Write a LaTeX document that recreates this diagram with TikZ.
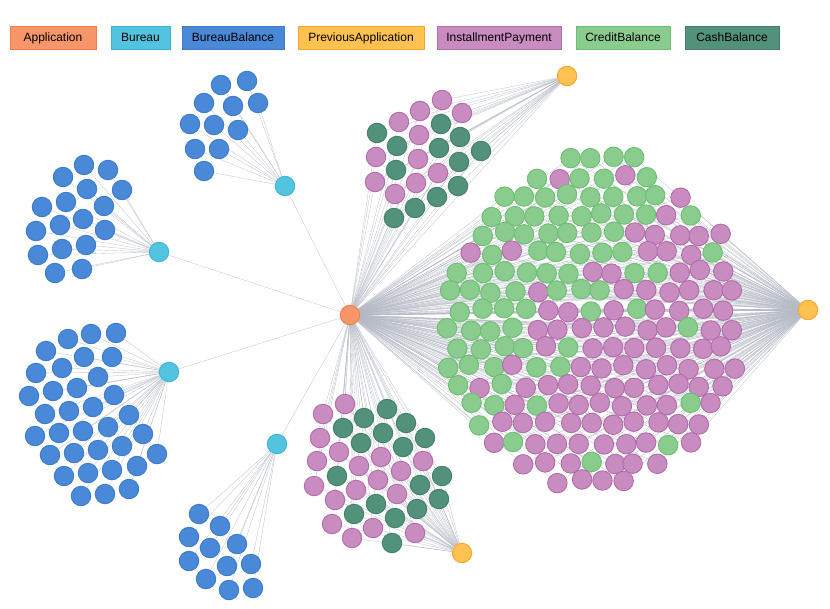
\documentclass[tikz,border=0pt]{standalone}
\usepackage{fontspec}
\setmainfont{Liberation Sans}
\usetikzlibrary{positioning,backgrounds}

\definecolor{appfill}{HTML}{F79668}
\definecolor{appline}{HTML}{EE7E4A}
\definecolor{bufill}{HTML}{52C4E0}
\definecolor{buline}{HTML}{40B3D4}
\definecolor{bbfill}{HTML}{4989D8}
\definecolor{bbline}{HTML}{3D7BCB}
\definecolor{pafill}{HTML}{FFC150}
\definecolor{paline}{HTML}{EDA830}
\definecolor{ipfill}{HTML}{C88CC0}
\definecolor{ipline}{HTML}{B26CA9}
\definecolor{cbfill}{HTML}{89CC8D}
\definecolor{cbline}{HTML}{6DBE72}
\definecolor{chfill}{HTML}{52917A}
\definecolor{chline}{HTML}{457F69}
\definecolor{linkgray}{HTML}{B4B9C4}

\begin{document}
\begin{tikzpicture}[
    x=1pt, y=-1pt,
    dot/.style={circle, minimum size=19.5pt, inner sep=0pt, line width=0.9pt},
    appnode/.style={dot, fill=appfill, draw=appline},
    bureaunode/.style={dot, fill=bufill, draw=buline},
    balnode/.style={dot, fill=bbfill, draw=bbline},
    prevnode/.style={dot, fill=pafill, draw=paline},
    instnode/.style={dot, fill=ipfill, draw=ipline},
    creditnode/.style={dot, fill=cbfill, draw=cbline},
    cashnode/.style={dot, fill=chfill, draw=chline},
    link/.style={draw=linkgray, line width=0.35pt, opacity=0.8},
    legbox/.style={line width=0.8pt, minimum height=23pt, inner sep=0pt,
                   text height=9pt, text depth=1.5pt,
                   font=\fontsize{12}{14}\selectfont}
  ]
  \useasboundingbox (0,0) rectangle (830,608);

  % legend
  \node[legbox, fill=appfill, draw=appline, minimum width=86pt] (legApp) at (53,37.5) {Application};
  \node[legbox, fill=bufill, draw=buline, minimum width=59pt] (legBureau) at (140.5,37.5) {Bureau};
  \node[legbox, fill=bbfill, draw=bbline, minimum width=102pt] (legBal) at (233,37.5) {BureauBalance};
  \node[legbox, fill=pafill, draw=paline, minimum width=126pt] (legPrev) at (361,37.5) {PreviousApplication};
  \node[legbox, fill=ipfill, draw=ipline, minimum width=124pt] (legInst) at (499,37.5) {InstallmentPayment};
  \node[legbox, fill=cbfill, draw=cbline, minimum width=94pt] (legCredit) at (623,37.5) {CreditBalance};
  \node[legbox, fill=chfill, draw=chline, minimum width=94pt] (legCash) at (732,37.5) {CashBalance};

  % hub, bureaus, previous applications
  \node[appnode] (app) at (350,315) {};
  \node[bureaunode] (bu1) at (285,186) {};
  \node[bureaunode] (bu2) at (159,252) {};
  \node[bureaunode] (bu3) at (169,372) {};
  \node[bureaunode] (bu4) at (277,444) {};
  \node[prevnode] (pa1) at (567,76) {};
  \node[prevnode] (pa2) at (808,310) {};
  \node[prevnode] (pa3) at (462,553) {};

  % bureau balance clusters
  \foreach \x/\y [count=\i] in {221/85,247/81,204/103,233/106,258/103,190/124,
      214/125,238/130,195/149,219/149,204/171}
    \node[balnode] (bbA\i) at (\x,\y) {};
  \foreach \x/\y [count=\i] in {84/165,108/170,63/177,87/189,122/190,42/207,
      66/202,104/206,36/231,60/225,83/219,105/230,38/255,62/249,86/245,55/273,82/269}
    \node[balnode] (bbB\i) at (\x,\y) {};
  \foreach \x/\y [count=\i] in {116/333,91/334,68/339,46/351,84/357,112/357,
      36/373,62/368,98/377,29/396,53/391,77/388,114/395,45/414,69/411,93/407,
      129/415,35/436,59/433,83/431,108/427,143/434,50/455,74/453,98/450,
      122/446,157/454,64/476,88/473,112/470,137/466,81/496,105/494,129/489}
    \node[balnode] (bbC\i) at (\x,\y) {};
  \foreach \x/\y [count=\i] in {199/514,220/526,189/537,210/548,237/544,
      189/561,227/566,251/564,206/579,229/590,253/588}
    \node[balnode] (bbD\i) at (\x,\y) {};

  % upper previous application cluster
  \foreach \x/\y/\kind [count=\i] in {442/100/instnode,420/111/instnode,
      462/113/instnode,399/122/instnode,419/135/instnode,376/157/instnode,
      418/159/instnode,438/173/instnode,375/182/instnode,416/183/instnode,
      395/194/instnode,377/133/cashnode,441/124/cashnode,397/146/cashnode,
      460/137/cashnode,439/148/cashnode,481/151/cashnode,459/162/cashnode,
      396/170/cashnode,458/186/cashnode,437/197/cashnode,415/208/cashnode,
      394/218/cashnode}
    \node[\kind] (pu\i) at (\x,\y) {};

  % lower previous application cluster
  \foreach \x/\y/\kind [count=\i] in {345/404/instnode,323/414/instnode,
      320/438/instnode,339/452/instnode,317/461/instnode,381/457/instnode,
      359/466/instnode,401/471/instnode,423/461/instnode,314/486/instnode,
      356/490/instnode,378/480/instnode,335/500/instnode,397/494/instnode,
      332/524/instnode,373/528/instnode,352/538/instnode,415/533/instnode,
      387/409/cashnode,364/418/cashnode,343/428/cashnode,406/423/cashnode,
      383/433/cashnode,361/443/cashnode,425/438/cashnode,403/447/cashnode,
      337/476/cashnode,442/476/cashnode,420/485/cashnode,439/499/cashnode,
      376/504/cashnode,417/509/cashnode,354/514/cashnode,395/518/cashnode,
      392/543/cashnode}
    \node[\kind] (pl\i) at (\x,\y) {};

  % large previous application cluster (rows of a hex grid)
  \pgfmathsetseed{11}
  \foreach \r/\y/\xs/\n in {0/158/569/4,1/177/536/6,2/196/503/9,3/215/492/10,
      4/234/481/12,5/253/470/12,6/272/459/13,7/291/448/14,8/310/459/13,
      9/329/448/14,10/348/459/13,11/367/448/14,12/386/459/13,13/405/470/12,
      14/424/481/11,15/443/492/10,16/462/525/7,17/481/558/4}{
    \foreach \k in {1,...,\n}{
      \pgfmathsetmacro{\x}{\xs+22*(\k-1)+2.4*rand}
      \pgfmathsetmacro{\yy}{\y+2.4*rand}
      \pgfmathsetmacro{\s}{(\x-460)/270+(\yy-160)/320}
      \pgfmathsetmacro{\pg}{max(0.07,min(0.85,0.85-(\s-0.7)*1.5))}
      \pgfmathtruncatemacro{\g}{rnd<\pg}
      \ifnum\g=1 \def\kind{creditnode}\else\def\kind{instnode}\fi
      \node[\kind] (pb\r-\k) at (\x,\yy) {};
    }
  }

  % links
  \begin{scope}[on background layer]
    \foreach \b in {bu1,bu2,bu3,bu4,pa1,pa2,pa3}
      \draw[link] (app) -- (\b);
    \foreach \i in {1,...,11}
      \draw[link] (bu1) -- (bbA\i);
    \foreach \i in {1,...,17}
      \draw[link] (bu2) -- (bbB\i);
    \foreach \i in {1,...,34}
      \draw[link] (bu3) -- (bbC\i);
    \foreach \i in {1,...,11}
      \draw[link] (bu4) -- (bbD\i);
    \foreach \i in {1,...,23}{
      \draw[link] (app) -- (pu\i);
      \draw[link] (pa1) -- (pu\i);
    }
    \foreach \i in {1,...,35}{
      \draw[link] (app) -- (pl\i);
      \draw[link] (pa3) -- (pl\i);
    }
    \foreach \r/\n in {0/4,1/6,2/9,3/10,4/12,5/12,6/13,7/14,8/13,9/14,
        10/13,11/14,12/13,13/12,14/11,15/10,16/7,17/4}
      \foreach \k in {1,...,\n}{
        \draw[link] (app) -- (pb\r-\k);
        \draw[link] (pa2) -- (pb\r-\k);
      }
  \end{scope}
\end{tikzpicture}
\end{document}
